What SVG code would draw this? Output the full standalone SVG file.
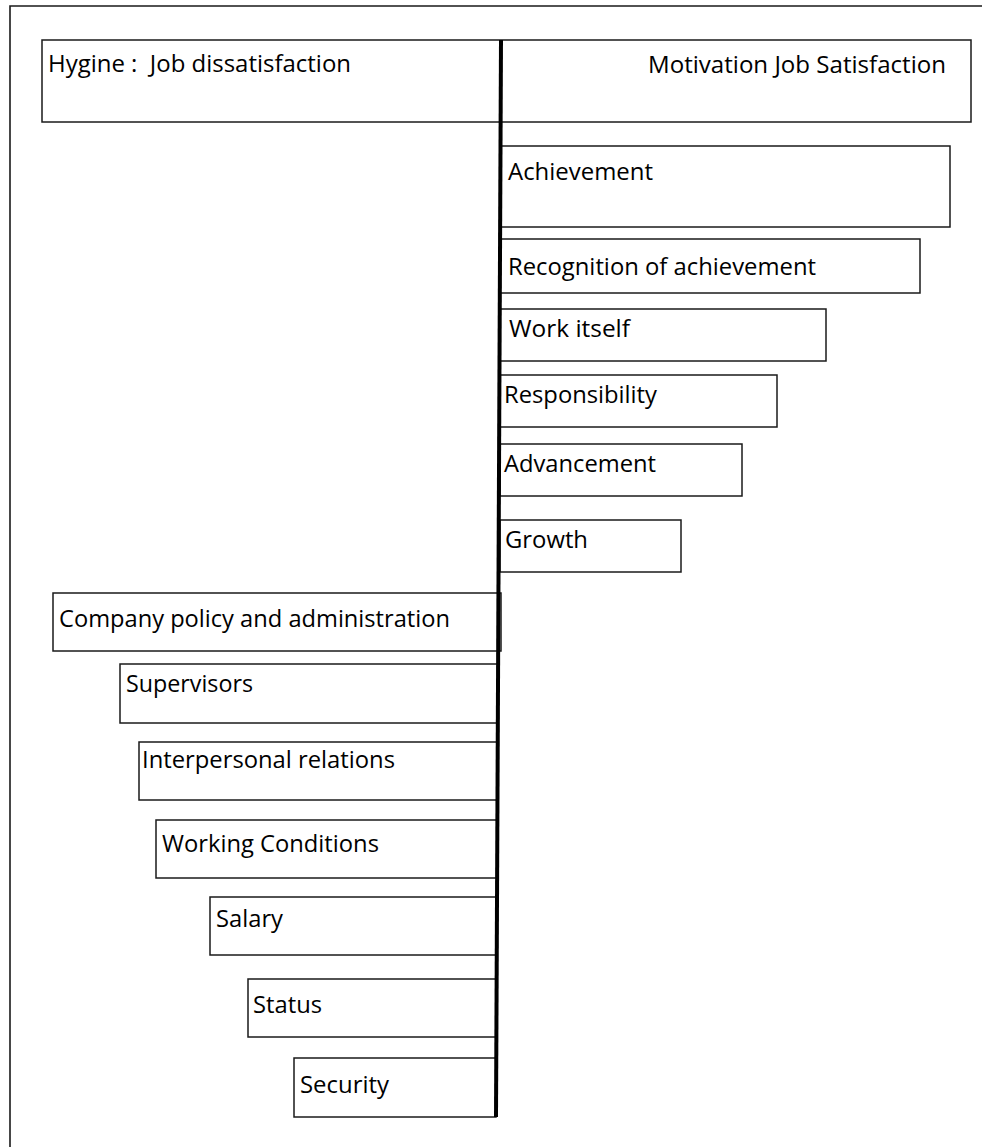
<svg xmlns="http://www.w3.org/2000/svg" width="982" height="1147" viewBox="0 0 982 1147">
  <style>
    .frame { fill: none; stroke: #1a1a1a; stroke-width: 1.6; }
    .box { fill: #ffffff; stroke: #1a1a1a; stroke-width: 1.5; }
    .lbl { font-family: "Open Sans", "Noto Sans", "DejaVu Sans", sans-serif; font-size: 23px; fill: #000; white-space: pre; }
    .axis { stroke: #000; stroke-width: 4; fill: none; }
  </style>
  <rect width="982" height="1147" fill="#ffffff"/>

  <!-- page frame (open to the right and bottom) -->
  <path class="frame" d="M10,1147 V6 H982"/>

  <!-- heading bar -->
  <g id="header">
    <rect class="box" x="42" y="40" width="929" height="82"/>
    <text class="lbl" x="48" y="72" textLength="303" lengthAdjust="spacingAndGlyphs" xml:space="preserve">Hygine :  Job dissatisfaction</text>
    <text class="lbl" x="648" y="73" textLength="298" lengthAdjust="spacingAndGlyphs">Motivation Job Satisfaction</text>
  </g>

  <!-- motivators (right side) -->
  <g id="achievement">
    <rect class="box" x="500" y="146" width="450" height="81"/>
    <text class="lbl" x="508" y="180" textLength="145" lengthAdjust="spacingAndGlyphs">Achievement</text>
  </g>
  <g id="recognition">
    <rect class="box" x="500" y="239" width="420" height="54"/>
    <text class="lbl" x="508" y="275" textLength="308" lengthAdjust="spacingAndGlyphs">Recognition of achievement</text>
  </g>
  <g id="work-itself">
    <rect class="box" x="500" y="309" width="326" height="52"/>
    <text class="lbl" x="509" y="337" textLength="121" lengthAdjust="spacingAndGlyphs">Work itself</text>
  </g>
  <g id="responsibility">
    <rect class="box" x="500" y="375" width="277" height="52"/>
    <text class="lbl" x="504" y="403" textLength="153" lengthAdjust="spacingAndGlyphs">Responsibility</text>
  </g>
  <g id="advancement">
    <rect class="box" x="500" y="444" width="242" height="52"/>
    <text class="lbl" x="504" y="472" textLength="152" lengthAdjust="spacingAndGlyphs">Advancement</text>
  </g>
  <g id="growth">
    <rect class="box" x="500" y="520" width="181" height="52"/>
    <text class="lbl" x="505" y="548" textLength="83" lengthAdjust="spacingAndGlyphs">Growth</text>
  </g>

  <!-- hygiene factors (left side) -->
  <g id="company-policy">
    <rect class="box" x="53" y="593" width="448" height="58"/>
    <text class="lbl" x="59" y="627" textLength="391" lengthAdjust="spacingAndGlyphs">Company policy and administration</text>
  </g>
  <g id="supervisors">
    <rect class="box" x="120" y="664" width="378" height="59"/>
    <text class="lbl" x="126" y="692" textLength="127" lengthAdjust="spacingAndGlyphs">Supervisors</text>
  </g>
  <g id="interpersonal">
    <rect class="box" x="139" y="742" width="358" height="58"/>
    <text class="lbl" x="142" y="768" textLength="253" lengthAdjust="spacingAndGlyphs">Interpersonal relations</text>
  </g>
  <g id="working-conditions">
    <rect class="box" x="156" y="820" width="341" height="58"/>
    <text class="lbl" x="162" y="852" textLength="217" lengthAdjust="spacingAndGlyphs">Working Conditions</text>
  </g>
  <g id="salary">
    <rect class="box" x="210" y="897" width="286" height="58"/>
    <text class="lbl" x="216" y="927" textLength="67" lengthAdjust="spacingAndGlyphs">Salary</text>
  </g>
  <g id="status">
    <rect class="box" x="248" y="979" width="248" height="58"/>
    <text class="lbl" x="253" y="1013" textLength="69" lengthAdjust="spacingAndGlyphs">Status</text>
  </g>
  <g id="security">
    <rect class="box" x="294" y="1058" width="202" height="59"/>
    <text class="lbl" x="300" y="1093" textLength="89" lengthAdjust="spacingAndGlyphs">Security</text>
  </g>

  <!-- dividing axis between the two factor groups -->
  <g id="connectors">
    <line class="axis" x1="501" y1="40" x2="496" y2="1117"/>
  </g>
</svg>
